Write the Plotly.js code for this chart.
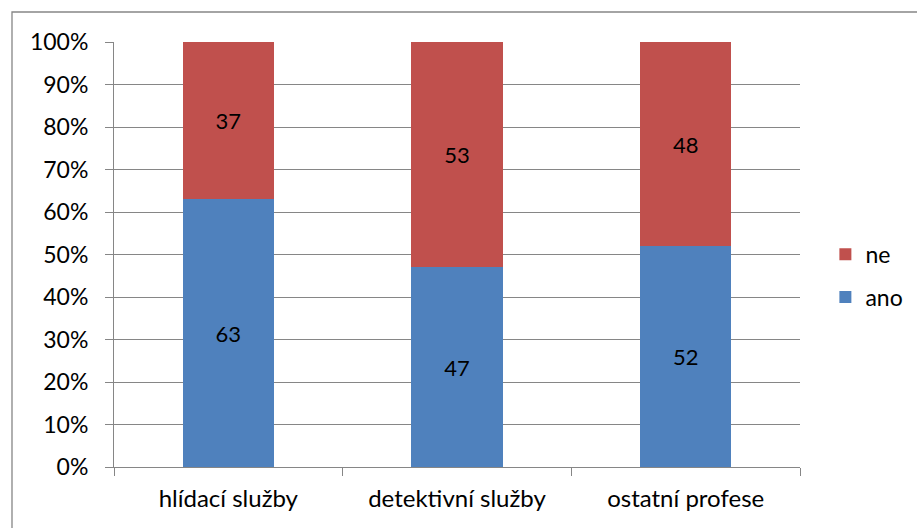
<!DOCTYPE html>
<html>
<head>
<meta charset="utf-8">
<script src="https://cdn.plot.ly/plotly-3.0.1.min.js"></script>
<style>html,body{margin:0;padding:0;background:#fff;}#chart{width:917px;height:528px;}</style>
</head>
<body>
<div id="chart"></div>
<script>
const categories = ["hlídací služby", "detektivní služby", "ostatní profese"];
const anoValues = [63, 47, 52];
const neValues = [37, 53, 48];
const seriesNames = ["ano", "ne"];
const yTickValues = [0, 10, 20, 30, 40, 50, 60, 70, 80, 90, 100];

const FONT = "Lato, 'Open Sans', sans-serif";
const GRID = "#868686";

const traces = [
  {
    type: "bar", name: seriesNames[0], x: categories, y: anoValues,
    text: anoValues.map(String), textposition: "inside", insidetextanchor: "middle",
    textfont: {family: FONT, size: 22, color: "#000"},
    marker: {color: "#4F81BD"}, legendgroup: "a", legendrank: 2, hoverinfo: "none"
  },
  {
    type: "bar", name: seriesNames[1], x: categories, y: neValues,
    text: neValues.map(String), textposition: "inside", insidetextanchor: "middle",
    textfont: {family: FONT, size: 22, color: "#000"},
    marker: {color: "#C0504D"}, legendgroup: "b", legendrank: 1, hoverinfo: "none"
  }
];

const layout = {
  width: 917, height: 528,
  margin: {l: 114, r: 117, t: 42, b: 61, autoexpand: false},
  paper_bgcolor: "#fff", plot_bgcolor: "#fff",
  barmode: "stack", bargap: 0.6,
  font: {family: FONT, size: 23, color: "#000"},
  showlegend: true,
  legend: {
    x: 1.037, xanchor: "left", y: 0.45, yanchor: "middle",
    traceorder: "grouped", tracegroupgap: 10,
    font: {family: FONT, size: 23, color: "#000"},
    itemclick: false, itemdoubleclick: false
  },
  xaxis: {
    type: "category", showgrid: false, showline: true, linecolor: GRID, linewidth: 1,
    ticks: "outside", tickson: "boundaries", ticklen: 8, tickcolor: GRID,
    ticklabelstandoff: 10,
    tickfont: {family: FONT, size: 24, color: "#000"}, fixedrange: true
  },
  yaxis: {
    range: [0, 100], tickvals: yTickValues, ticktext: yTickValues.map(v => v + "%"),
    showgrid: true, gridcolor: GRID, gridwidth: 1,
    showline: true, linecolor: GRID, linewidth: 1,
    ticks: "outside", ticklen: 8, tickcolor: GRID, zeroline: false,
    ticklabelstandoff: 12,
    tickfont: {family: FONT, size: 23, color: "#000"}, fixedrange: true
  },
  shapes: [{
    type: "rect", xref: "paper", yref: "paper",
    x0: (12 - 114) / 686, x1: 1.3, y0: -0.3, y1: (467 - 12) / 425,
    line: {color: GRID, width: 1.3}, fillcolor: "rgba(0,0,0,0)", layer: "below"
  }]
};

Plotly.newPlot("chart", traces, layout, {displayModeBar: false, staticPlot: true});
</script>
</body>
</html>
